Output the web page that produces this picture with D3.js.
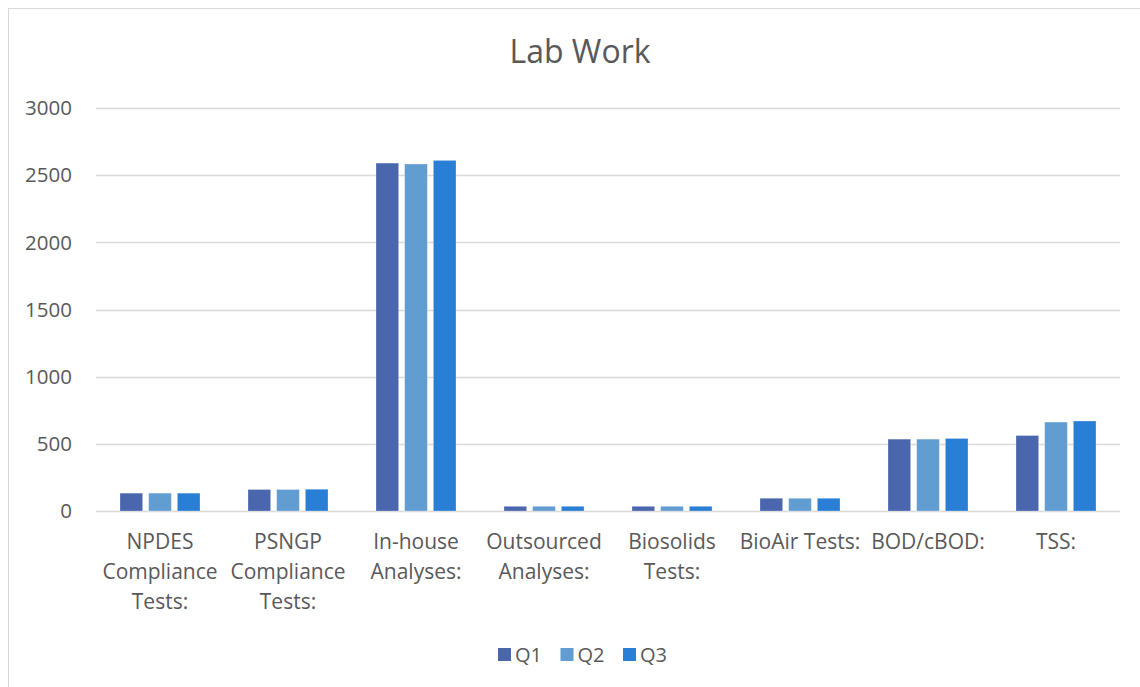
<!DOCTYPE html>
<html><head><meta charset="utf-8">
<script src="https://cdn.jsdelivr.net/npm/d3@7"></script>
<style>body{margin:0;background:#fff}svg{display:block}text{font-family:"Open Sans",sans-serif;fill:#595959}</style>
</head><body><svg id="c" width="1140" height="687"></svg>
<script>
const categories = [["NPDES","Compliance","Tests:"],["PSNGP","Compliance","Tests:"],["In-house","Analyses:"],["Outsourced","Analyses:"],["Biosolids","Tests:"],["BioAir Tests:"],["BOD/cBOD:"],["TSS:"]];
const seriesNames = ["Q1","Q2","Q3"];
const q1 = [133, 160, 2590, 35, 35, 95, 535, 562];
const q2 = [133, 160, 2583, 35, 35, 95, 535, 662];
const q3 = [133, 162, 2610, 35, 35, 95, 540, 670];
const yTicks = [0, 500, 1000, 1500, 2000, 2500, 3000];
const colors = ["#4A66AC", "#629DD1", "#297FD5"];

const svg = d3.select("#c");
svg.append("rect").attr("x",8.5).attr("y",8.5).attr("width",1140).attr("height",700)
  .attr("fill","none").attr("stroke","#d9d9d9");

const x0 = d3.scaleBand().domain(d3.range(categories.length)).range([96, 1120]).padding(0);
const x1 = d3.scaleBand().domain(seriesNames).range([24, 104]).paddingInner(0.21).paddingOuter(0);
const y = d3.scaleLinear().domain([0, 3000]).range([511, 108]);

svg.append("g").selectAll("line").data(yTicks).join("line")
  .attr("x1",96).attr("x2",1120).attr("y1",d=>Math.round(y(d))+0.5).attr("y2",d=>Math.round(y(d))+0.5)
  .attr("stroke","#d9d9d9").attr("stroke-width",1.5);
svg.append("g").selectAll("text").data(yTicks).join("text")
  .attr("x",72).attr("y",d=>y(d)).attr("dy","0.35em").attr("text-anchor","end")
  .attr("font-size",20.5).text(d=>d);

const data = [q1,q2,q3];
categories.forEach((c,i)=>{
  const g = svg.append("g").attr("transform",`translate(${x0(i)},0)`);
  g.selectAll("rect").data(seriesNames).join("rect")
    .attr("x",s=>x1(s)).attr("width",x1.bandwidth())
    .attr("y",(s,k)=>y(data[k][i])).attr("height",(s,k)=>y(0)-y(data[k][i]))
    .attr("fill",(s,k)=>colors[k]).attr("stroke","#fff").attr("stroke-opacity",0.35).attr("stroke-width",0.75);
  const t = svg.append("text").attr("text-anchor","middle").attr("font-size",21);
  c.forEach((line,j)=>t.append("tspan").attr("x",x0(i)+x0.bandwidth()/2).attr("y",549+j*30).text(line));
});

svg.append("text").attr("x",580).attr("y",63).attr("text-anchor","middle").attr("font-size",32).text("Lab Work");

const lg = svg.append("g").selectAll("g").data(seriesNames).join("g")
  .attr("transform",(d,i)=>`translate(${498+i*62.5},648)`);
lg.append("rect").attr("width",13).attr("height",13).attr("fill",(d,i)=>colors[i]);
lg.append("text").attr("x",17).attr("y",6.5).attr("dy","0.35em").attr("font-size",20).text(d=>d);
</script></body></html>
